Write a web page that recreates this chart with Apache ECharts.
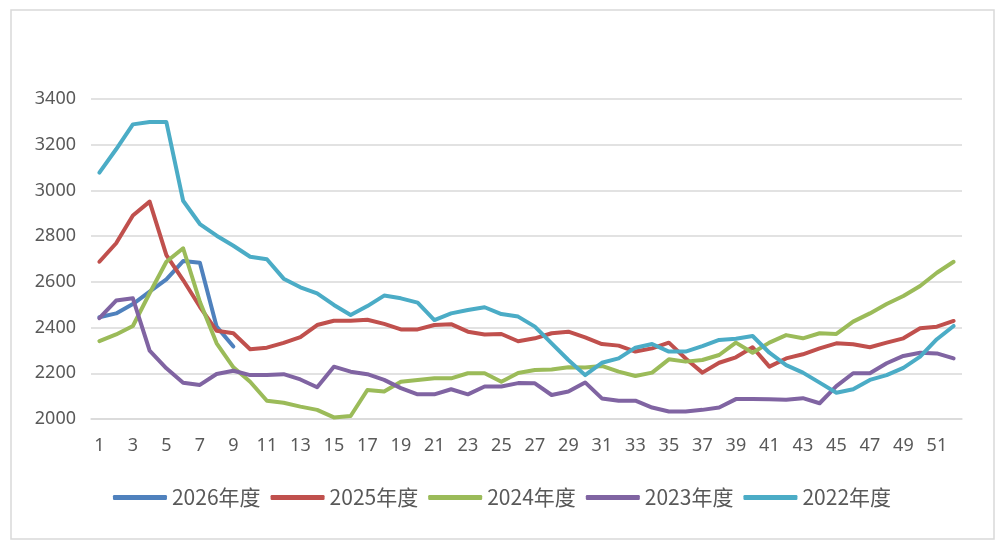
<!DOCTYPE html>
<html>
<head>
<meta charset="utf-8">
<script src="https://cdn.jsdelivr.net/npm/echarts@6/dist/echarts.min.js"></script>
<style>
html,body{margin:0;padding:0;background:#fff;}
#c{width:1004px;height:553px;}
</style>
</head>
<body>
<div id="c"></div>
<script>
var categories = [];
for (var i = 1; i <= 52; i++) categories.push(String(i));

var seriesNames = ['2026年度', '2025年度', '2024年度', '2023年度', '2022年度'];

var s2026 = [2445, 2462, 2503, 2557, 2611, 2691, 2684, 2404, 2317];

var s2025 = [2688, 2769, 2890, 2951, 2717, 2608, 2491, 2386, 2375, 2305,
  2312, 2333, 2358, 2411, 2430, 2430, 2434, 2416, 2392, 2392,
  2411, 2415, 2382, 2370, 2372, 2340, 2353, 2375, 2382, 2357,
  2328, 2321, 2295, 2309, 2334, 2265, 2203, 2246, 2270, 2314,
  2229, 2265, 2283, 2309, 2331, 2327, 2314, 2334, 2353, 2397,
  2404, 2429];

var s2024 = [2341, 2370, 2407, 2550, 2688, 2747, 2513, 2331, 2226, 2163,
  2080, 2071, 2054, 2040, 2007, 2013, 2127, 2120, 2163, 2171,
  2178, 2178, 2200, 2200, 2163, 2201, 2214, 2217, 2226, 2225,
  2232, 2207, 2188, 2203, 2261, 2251, 2258, 2280, 2334, 2290,
  2334, 2367, 2353, 2375, 2372, 2426, 2462, 2503, 2538, 2582,
  2640, 2688];

var s2023 = [2441, 2518, 2528, 2299, 2222, 2159, 2149, 2197, 2211, 2192,
  2192, 2196, 2173, 2139, 2229, 2207, 2196, 2171, 2135, 2108,
  2108, 2130, 2108, 2142, 2142, 2157, 2156, 2105, 2120, 2160,
  2090, 2080, 2080, 2050, 2033, 2033, 2040, 2050, 2087, 2088,
  2086, 2084, 2091, 2069, 2144, 2200, 2200, 2244, 2276, 2290,
  2287, 2265];

var s2022 = [3078, 3180, 3289, 3299, 3299, 2955, 2853, 2802, 2758, 2710,
  2699, 2614, 2576, 2550, 2499, 2455, 2494, 2540, 2528, 2509,
  2433, 2462, 2477, 2489, 2459, 2448, 2404, 2331, 2258, 2192,
  2246, 2265, 2312, 2328, 2295, 2295, 2319, 2346, 2351, 2363,
  2290, 2236, 2203, 2159, 2115, 2130, 2171, 2192, 2224, 2273,
  2349, 2407];

var colors = ['#4F81BD', '#C0504D', '#9BBB59', '#8064A2', '#4BACC6'];
var dataList = [s2026, s2025, s2024, s2023, s2022];

var chart = echarts.init(document.getElementById('c'));
var series = seriesNames.map(function (n, k) {
  return {
    name: n,
    type: 'line',
    data: dataList[k],
    symbol: 'none',
    smooth: false,
    lineStyle: { width: 4, color: colors[k], cap: 'round', join: 'round' },
    itemStyle: { color: colors[k] }
  };
});

chart.setOption({
  animation: false,
  backgroundColor: '#ffffff',
  color: colors,
  graphic: [{
    type: 'rect',
    shape: { x: 11, y: 10, width: 983, height: 529 },
    style: { fill: 'none', stroke: '#d9d9d9', lineWidth: 1.5 },
    silent: true,
    z: -1
  }],
  grid: { left: 91, right: 42, top: 99, bottom: 134, containLabel: false },
  legend: {
    bottom: 40,
    left: 'center',
    icon: 'roundRect',
    itemWidth: 54,
    itemHeight: 5,
    itemGap: 10,
    textStyle: { fontSize: 21, color: '#595959', fontFamily: 'Noto Sans CJK SC' },
    data: seriesNames
  },
  xAxis: {
    type: 'category',
    data: categories,
    boundaryGap: true,
    axisLine: { show: true, lineStyle: { color: '#d9d9d9', width: 1.5 } },
    axisTick: { show: false },
    axisLabel: { interval: 1, fontSize: 18, color: '#595959', margin: 18, fontFamily: 'Noto Sans' },
    splitLine: { show: false }
  },
  yAxis: {
    type: 'value',
    min: 2000,
    max: 3400,
    interval: 200,
    axisLine: { show: false },
    axisTick: { show: false },
    axisLabel: {
      fontSize: 18, color: '#595959', margin: 15, fontFamily: 'Noto Sans',
      formatter: function (v) { return String(v); }
    },
    splitLine: { lineStyle: { color: '#d9d9d9', width: 1.5 } }
  },
  series: series
});
</script>
</body>
</html>
